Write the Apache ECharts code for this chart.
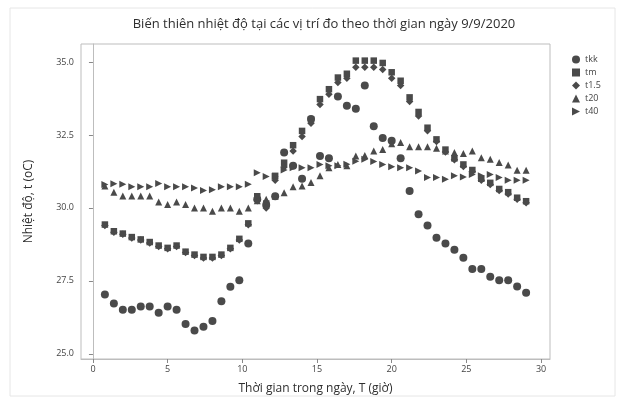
<!DOCTYPE html>
<html><head><meta charset="utf-8">
<script src="https://cdn.jsdelivr.net/npm/echarts@6/dist/echarts.min.js"></script>
<style>html,body{margin:0;padding:0;background:#fff}#c{width:625px;height:401px}</style>
</head><body><div id="c"></div>
<script>
const times = [0.8,1.4,2.0,2.6,3.2,3.8,4.4,5.0,5.6,6.2,6.8,7.4,8.0,8.6,9.2,9.8,10.4,11.0,11.6,12.2,12.8,13.4,14.0,14.6,15.2,15.8,16.4,17.0,17.6,18.2,18.8,19.4,20.0,20.6,21.2,21.8,22.4,23.0,23.6,24.2,24.8,25.4,26.0,26.6,27.2,27.8,28.4,29.0];
const tkk = [27.03,26.72,26.51,26.51,26.62,26.62,26.41,26.62,26.51,26.02,25.80,25.93,26.12,26.80,27.30,27.52,28.78,30.30,30.10,30.40,31.90,31.45,31.00,33.05,31.78,31.70,33.82,33.50,33.40,34.20,32.80,32.40,32.30,31.70,30.58,29.78,29.40,28.98,28.78,28.57,28.29,27.91,27.91,27.64,27.52,27.52,27.31,27.09];
const tm = [29.43,29.20,29.12,29.00,28.92,28.83,28.71,28.63,28.71,28.50,28.40,28.32,28.32,28.40,28.63,28.94,29.47,30.40,30.15,31.10,31.55,32.15,32.64,33.04,33.73,34.07,34.47,34.60,35.05,35.05,35.05,34.97,34.65,34.36,33.79,33.29,32.75,32.35,32.00,31.70,31.49,31.30,31.00,30.86,30.65,30.54,30.35,30.23];
const t15 = [29.40,29.17,29.10,28.97,28.90,28.80,28.68,28.60,28.68,28.47,28.37,28.28,28.28,28.37,28.60,28.90,29.42,30.25,30.00,30.95,31.40,31.95,32.45,32.90,33.55,33.90,34.30,34.45,34.82,34.82,34.82,34.75,34.45,34.20,33.65,33.15,32.65,32.28,31.92,31.65,31.42,31.25,30.95,30.80,30.60,30.48,30.30,30.18];
const t20 = [30.75,30.54,30.41,30.41,30.41,30.41,30.20,30.12,30.20,30.12,30.00,30.00,29.89,30.00,30.00,29.89,30.00,30.25,30.30,30.40,30.52,30.73,30.75,30.87,31.10,31.38,31.49,31.45,31.78,31.80,31.95,32.00,32.20,32.24,32.10,32.10,32.10,32.05,31.95,31.90,31.87,31.95,31.72,31.67,31.56,31.47,31.29,31.29];
const t40 = [30.80,30.83,30.81,30.73,30.73,30.73,30.84,30.73,30.73,30.73,30.68,30.60,30.62,30.73,30.73,30.73,30.81,31.21,31.08,31.08,31.30,31.38,31.38,31.38,31.49,31.45,31.45,31.50,31.60,31.67,31.59,31.49,31.41,31.38,31.38,31.27,31.04,31.04,30.98,31.10,31.06,31.15,31.10,31.15,31.04,30.95,30.95,30.95];
const seriesNames = ['tkk','tm','t1.5','t20','t40'];
const xTicks = [0,5,10,15,20,25,30];
const yTicks = [25,27.5,30,32.5,35];

const col = '#4a4a4a';
const font = '"Open Sans", "Noto Sans", sans-serif';
const symbols = ['circle','rect','diamond','triangle','path://M0,0L10,5L0,10Z'];
const sizes = [8,6.5,7.5,7,7];
const values = [tkk,tm,t15,t20,t40];

const chart = echarts.init(document.getElementById('c'), null, {renderer:'canvas'});
chart.setOption({
  animation:false,
  backgroundColor:'#fff',
  title:{text:'Biến thiên nhiệt độ tại các vị trí đo theo thời gian ngày 9/9/2020',left:319,textAlign:'center',top:13,
    textStyle:{fontFamily:font,fontSize:13,fontWeight:'normal',color:'#2e2e2e'}},
  graphic:[{type:'rect',shape:{x:10,y:8,width:605,height:388},style:{fill:'none',stroke:'#e6e6e6',lineWidth:1},silent:true}],
  legend:{orient:'vertical',left:567,top:50,itemGap:4,itemWidth:8,itemHeight:8,
    textStyle:{fontFamily:font,fontSize:9,color:'#444',padding:[0,0,0,0]},
    data:seriesNames.map((n,i)=>({name:n,icon:symbols[i]}))},
  grid:{left:81,right:75,top:44,bottom:42,show:true,borderColor:'#bdbdbd',borderWidth:1,backgroundColor:'#fff'},
  xAxis:{type:'value',min:-0.8,max:30.6,
    name:'Thời gian trong ngày, T (giờ)',nameLocation:'middle',nameGap:24,
    nameTextStyle:{fontFamily:font,fontSize:12,color:'#2e2e2e'},
    axisLine:{show:true,lineStyle:{color:'#bdbdbd'}},
    axisTick:{show:true,length:4,lineStyle:{color:'#888'},customValues:xTicks},
    axisLabel:{fontFamily:font,fontSize:9,color:'#444',margin:6,customValues:xTicks,formatter:v=>String(v)},
    splitLine:{show:false}},
  yAxis:{type:'value',min:24.82,max:35.62,
    name:'Nhiệt độ, t (oC)',nameLocation:'middle',nameGap:46,
    nameTextStyle:{fontFamily:font,fontSize:12,color:'#2e2e2e'},
    axisLine:{show:true,lineStyle:{color:'#bdbdbd'}},
    axisTick:{show:true,length:4,lineStyle:{color:'#888'},customValues:yTicks},
    axisLabel:{fontFamily:font,fontSize:9,color:'#444',margin:7,customValues:yTicks,formatter:v=>v.toFixed(1)},
    splitLine:{show:false}},
  series:seriesNames.map((n,i)=>({
    name:n,type:'scatter',symbol:symbols[i],symbolSize:sizes[i],
    itemStyle:{color:col,opacity:1},
    data:times.map((t,k)=>[t,values[i][k]])
  }))
});
</script></body></html>
